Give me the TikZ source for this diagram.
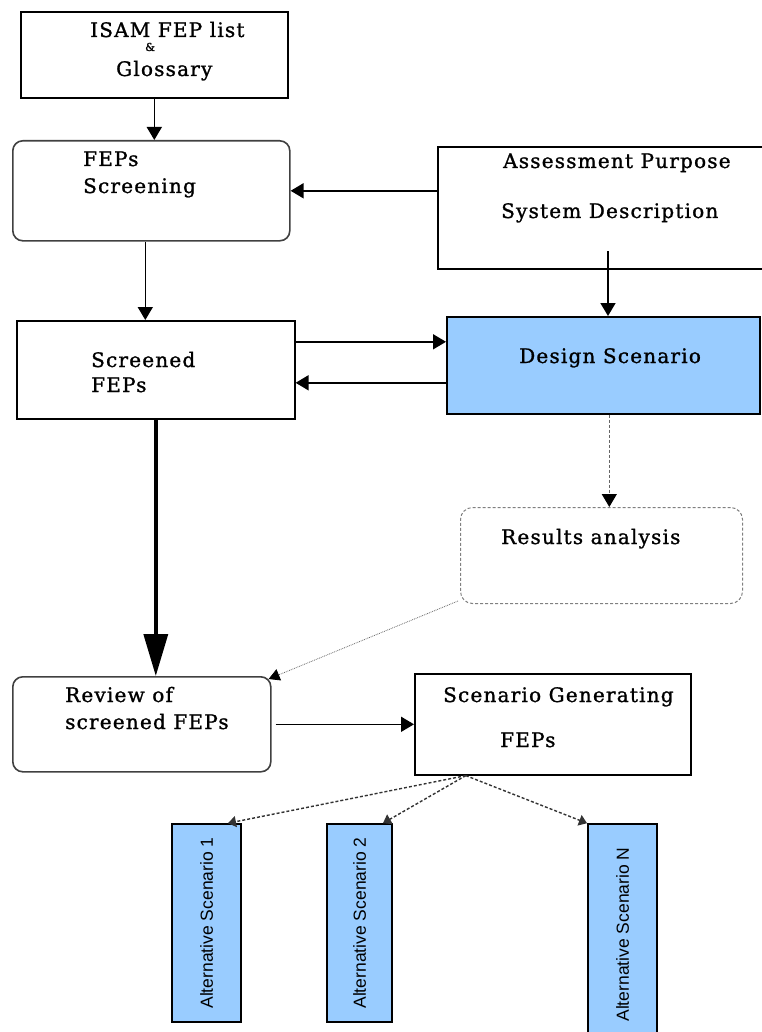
\documentclass[tikz,border=0pt]{standalone}
\usepackage{fontspec}
\setmainfont{DejaVu Serif}[LetterSpace=6, FakeBold=1.2]
\newfontfamily\altfont{Liberation Sans}
\usepackage{xcolor}
\usetikzlibrary{positioning, arrows.meta}
\definecolor{scenblue}{HTML}{99CCFF}

\begin{document}
\begin{tikzpicture}[x=1pt, y=-1pt, >={Triangle[width=15pt,length=13pt]},
    box/.style={draw, line width=1.6pt, anchor=north west, inner sep=0pt},
    roundbox/.style={box, draw=black!75, rounded corners=10pt},
    altbox/.style={draw, line width=1.6pt, fill=scenblue, rotate=90, inner sep=0pt,
      font=\altfont\fontsize{17.5}{20}\selectfont},
    lbl/.style={anchor=base west, inner sep=0pt, font=\fontsize{20}{24}\selectfont},
    link/.style={->, line width=1.6pt},
    faint/.style={-{Triangle[width=15pt,length=13pt,color=black]}, line width=1.2pt,
      draw=black!60, densely dashed},
    branch/.style={-{Triangle[width=11pt,length=8pt]}, line width=1.4pt,
      draw=black!80, densely dashed}]
    \useasboundingbox (0,0) rectangle (761,1032);

    % boxes
    \node[box, minimum width=267pt, minimum height=86pt] (isam) at (20,11) {};
    \node[roundbox, minimum width=277pt, minimum height=100pt] (screening) at (12,140) {};
    \node[box, minimum width=278pt, minimum height=98pt] (screened) at (16,320) {};
    \node[box, minimum width=338pt, minimum height=122pt] (assess) at (437,146) {};
    \node[box, fill=scenblue, minimum width=313pt, minimum height=97pt] (design) at (446,316) {};
    \node[roundbox, draw=black!50, densely dashed, line width=1pt, rounded corners=12pt,
      minimum width=282pt, minimum height=96pt] (results) at (460,507) {};
    \node[roundbox, minimum width=258pt, minimum height=95pt] (review) at (12,676) {};
    \node[box, minimum width=276pt, minimum height=101pt] (sgen) at (414,673) {};

    \node[altbox, minimum width=198pt, minimum height=69pt] (alt1) at (206.5,923) {Alternative Scenario 1};
    \node[altbox, minimum width=198pt, minimum height=65pt] (alt2) at (359.5,923) {Alternative Scenario 2};
    \node[altbox, minimum width=221pt, minimum height=69pt] (altN) at (622.5,934.5) {Alternative Scenario N};

    % texts
    \node[lbl] (isamtxt) at (90,37) {ISAM FEP list};
    \node[lbl, font=\fontsize{11}{12}\selectfont] (amptxt) at (145,51) {\&};
    \node[lbl] (glosstxt) at (116,76) {Glossary};
    \node[lbl] (screentxt) at (83,166) {FEPs};
    \node[lbl] (screentxtb) at (83,193) {Screening};
    \node[lbl] (screenedtxt) at (91,367) {Screened};
    \node[lbl] (screenedtxtb) at (91,392) {FEPs};
    \node[lbl] (assesstxt) at (503,168) {Assessment Purpose};
    \node[lbl] (assesstxtb) at (501,218) {System Description};
    \node[lbl] (designtxt) at (519,363) {Design Scenario};
    \node[lbl] (resultstxt) at (501,544) {Results analysis};
    \node[lbl] (reviewtxt) at (65,702) {Review of};
    \node[lbl] (reviewtxtb) at (65,729) {screened FEPs};
    \node[lbl] (sgentxt) at (443,702) {Scenario Generating};
    \node[lbl] (sgentxtb) at (500,747) {FEPs};

    % connectors
    \coordinate (assessout) at (608,251);
    \coordinate (fork) at ([xshift=-87pt]sgen.south);
    \draw[link] (isam.south) -- (isam.south |- screening.north);
    \draw[link] (screening.east -| assess.west) -- (screening.east);
    \draw[link] ([xshift=-6pt]screening.south) -- ([xshift=-6pt]screening.south |- screened.north);
    \draw[link] (assessout) -- (assessout |- design.north);
    \draw[link] ([yshift=28pt]screened.east) -- ([yshift=28pt]screened.east -| design.west);
    \draw[link] ([yshift=-13pt]screened.east -| design.west) -- ([yshift=-13pt]screened.east);
    \draw[faint] ([xshift=6pt]design.south) -- ([xshift=6pt]design.south |- results.north);
    \draw[faint, line width=0.8pt, densely dotted, -{Triangle[width=12pt,length=11pt,color=black]}]
      ([shift={(-2pt,3pt)}]results.south west) -- ([shift={(-3pt,-3pt)}]review.north east);
    \draw[line width=3.5pt, -{Triangle[width=24pt,length=42pt]}] (screened.south) -- (screened.south |- review.north);
    \draw[link] ([xshift=4pt]review.east) -- (review.east -| sgen.west);
    \draw[branch] (fork) -- ([xshift=21.5pt]alt1.east);
    \draw[branch] (fork) -- ([xshift=23.5pt]alt2.east);
    \draw[branch] (fork) -- ([xshift=-35.5pt]altN.east);
\end{tikzpicture}
\end{document}
